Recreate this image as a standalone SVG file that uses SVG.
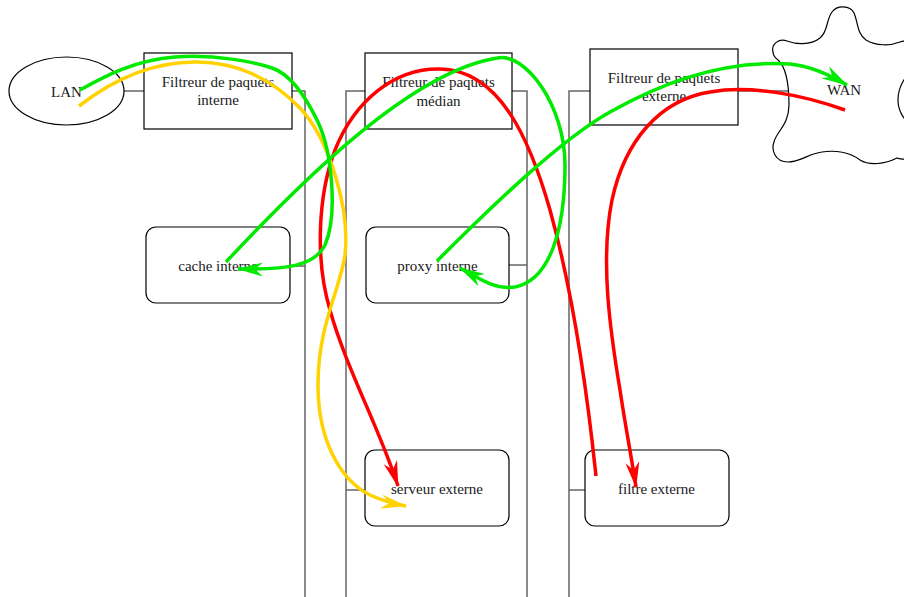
<svg xmlns="http://www.w3.org/2000/svg" width="904" height="597" viewBox="0 0 904 597">
<style>
.bus{stroke:#666;stroke-width:1.5;fill:none}
.box{fill:#fff;stroke:#000;stroke-width:1.2}
.t{font-family:"Liberation Serif","Times New Roman",serif;font-size:15px;fill:#1a1a1a;text-anchor:middle}
.flow{fill:none;stroke-width:3.5;stroke-linecap:butt}
.g{stroke:#00ea00}
.r{stroke:#ff0000}
.y{stroke:#ffd200}
</style>
<defs>
<marker id="ag" viewBox="0 0 26 14" refX="25" refY="7" markerWidth="26" markerHeight="14" markerUnits="userSpaceOnUse" orient="auto"><path d="M0,0 L26,7 L0,14 L8,7 z" fill="#00ea00"/></marker>
<marker id="ar" viewBox="0 0 26 14" refX="25" refY="7" markerWidth="26" markerHeight="14" markerUnits="userSpaceOnUse" orient="auto"><path d="M0,0 L26,7 L0,14 L8,7 z" fill="#ff0000"/></marker>
<marker id="ay" viewBox="0 0 26 14" refX="25" refY="7" markerWidth="26" markerHeight="14" markerUnits="userSpaceOnUse" orient="auto"><path d="M0,0 L26,7 L0,14 L8,7 z" fill="#ffd200"/></marker>
</defs>
<rect width="904" height="597" fill="#fff"/>
<g id="connectors">
<path class="bus" d="M123,91 H144"/>
<path class="bus" d="M291,91 H305 V597"/>
<path class="bus" d="M365,91 H346 V597"/>
<path class="bus" d="M512,91 H527 V597"/>
<path class="bus" d="M590,91 H569 V597"/>
<path class="bus" d="M738,91 H789"/>
<path class="bus" d="M290,266 H305"/>
<path class="bus" d="M509,265 H527"/>
<path class="bus" d="M346,490 H365"/>
<path class="bus" d="M569,490 H585"/>
</g>
<g id="lan"><ellipse class="box" cx="66.5" cy="91" rx="57.5" ry="34"/><text class="t" x="66.5" y="97">LAN</text></g>
<g id="filtreur-interne"><rect class="box" x="144" y="53" width="148" height="76"/><text class="t" x="218" y="87">Filtreur de paquets</text><text class="t" x="218" y="105">interne</text></g>
<g id="filtreur-median"><rect class="box" x="365" y="53" width="147" height="76"/><text class="t" x="438.5" y="87">Filtreur de paquets</text><text class="t" x="438.5" y="105.5">médian</text></g>
<g id="filtreur-externe"><rect class="box" x="590" y="49" width="148" height="76"/><text class="t" x="664" y="83">Filtreur de paquets</text><text class="t" x="664" y="101">externe</text></g>
<g id="wan"><path fill="#fff" stroke="#000" stroke-width="1.2" d="M773,52 C771,44 779,38 787,41 C795,44 810,46 820,38 C828,32 826,20 832,12 C837,5 850,5 854,13 C858,22 857,34 866,40 C876,46 890,46 900,42 C912,38 920,48 918,58 C916,70 898,78 898,100 C898,120 916,126 918,140 C920,154 908,162 897,158 C885,164 870,166 860,160 C850,152 835,150 822,152 C808,154 800,162 788,162 C775,162 771,150 774,142 C776,132 789,125 789,105 C789,85 787,68 778,60 C774,57 773,55 773,52 Z"/><text class="t" x="844" y="95">WAN</text></g>
<g id="cache-interne"><rect class="box" x="146" y="227" width="144" height="76" rx="10"/><text class="t" x="218" y="271">cache interne</text></g>
<g id="proxy-interne"><rect class="box" x="366" y="227" width="143" height="76" rx="10"/><text class="t" x="437.5" y="271">proxy interne</text></g>
<g id="serveur-externe"><rect class="box" x="365" y="450" width="144" height="76" rx="10"/><text class="t" x="437" y="494">serveur externe</text></g>
<g id="filtre-externe"><rect class="box" x="585" y="450" width="144" height="76" rx="10"/><text class="t" x="656.5" y="494">filtre externe</text></g>
<g id="flows">
<path class="flow r" marker-end="url(#ar)" d="M845,110 C800,94 750,85 710,92 C660,100 625,140 612,200 C600,260 610,330 620,390 C626,430 632,460 636,487"/>
<path class="flow r" marker-end="url(#ar)" d="M596,476 C588,400 575,300 550,210 C530,140 500,70 440,69 C395,68 355,100 335,150 C318,195 315,260 330,310 C345,365 380,430 398,486"/>
<path class="flow y" marker-end="url(#ay)" d="M79,106 C110,82 150,62 195,62 C240,62 275,82 300,108 C330,140 350,210 345,255 C340,290 318,325 318,385 C318,440 340,480 370,495 C385,502 395,504 406,506"/>
<path class="flow g" marker-end="url(#ag)" d="M80,90 C105,76 135,60 175,57 C215,54 255,62 272,68 C290,74 305,95 318,122 C332,152 338,215 325,245 C315,265 290,270 238,269"/>
<path class="flow g" marker-end="url(#ag)" d="M226,262 C300,183 410,72 497,58 C525,52 565,105 565,165 C565,230 550,280 515,287 C495,290 478,278 460,268"/>
<path class="flow g" marker-end="url(#ag)" d="M437,261 C490,208 560,140 610,112 C670,78 730,60 790,64 C810,66 830,75 847,85"/>
</g>
</svg>
